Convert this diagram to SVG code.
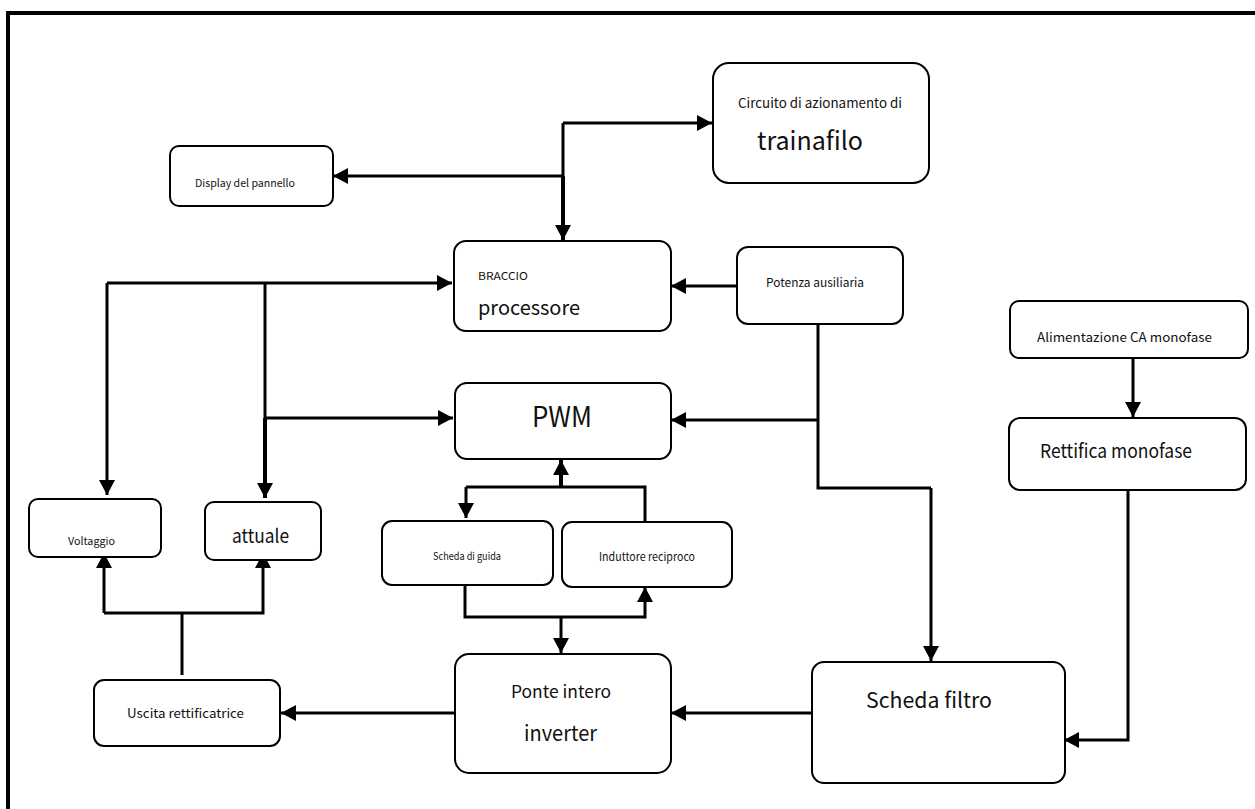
<svg xmlns="http://www.w3.org/2000/svg" width="1255" height="809" viewBox="0 0 1255 809">
  <defs>
    <marker id="ah" viewBox="0 0 15 16" refX="15" refY="8" markerWidth="15" markerHeight="16" markerUnits="userSpaceOnUse" orient="auto">
      <path d="M0,0 L15,8 L0,16 z" fill="#000"/>
    </marker>
    <style>
      .box { fill: #fff; stroke: #000; stroke-width: 2; }
      .lbl { font-family: "Noto Sans CJK SC", "Noto Sans", "Liberation Sans", sans-serif; fill: #111; }
      .wire { fill: none; stroke: #000; stroke-width: 3; }
      .arr { marker-end: url(#ah); }
      .frame { stroke: #000; stroke-width: 4; fill: none; }
    </style>
  </defs>

  <rect width="1255" height="809" fill="#fff"/>

  <!-- outer frame: top and left edges only -->
  <path class="frame" d="M8,809 L8,13 L1255,13"/>

  <!-- connectors -->
  <g id="connectors">
    <path class="wire arr" d="M563,176 L333,176"/>
    <path class="wire" d="M563,123 L563,176"/>
    <path class="wire arr" style="stroke-width:4" d="M563,176 L563,240"/>
    <path class="wire arr" d="M563,123 L712,123"/>

    <path class="wire arr" d="M737,286 L671,286"/>

    <path class="wire" d="M818,318 L818,488 L931,488"/>
    <path class="wire arr" d="M931,488 L931,661"/>
    <path class="wire arr" d="M818,420 L671,420"/>

    <path class="wire arr" d="M1133,358 L1133,417"/>
    <path class="wire arr" d="M1128,490 L1128,740 L1064,740"/>

    <path class="wire arr" d="M812,713 L671,713"/>
    <path class="wire arr" d="M455,713 L281,713"/>

    <path class="wire" d="M107,283 L265,283"/>
    <path class="wire arr" d="M265,283 L452,283"/>
    <path class="wire arr" d="M107,283 L107,495"/>
    <path class="wire" d="M265,283 L265,418"/>
    <path class="wire arr" style="stroke-width:4" d="M265,418 L265,498"/>
    <path class="wire arr" d="M265,418 L453,418"/>

    <path class="wire" d="M182,675 L182,613"/>
    <path class="wire arr" d="M104,613 L104,553"/>
    <path class="wire arr" d="M104,613 L263,613 L263,553"/>

    <path class="wire arr" style="stroke-width:4" d="M561,488 L561,460"/>
    <path class="wire" d="M466,487 L645,487 L645,522"/>
    <path class="wire arr" d="M466,487 L466,518"/>

    <path class="wire" d="M465,585 L465,617 L561,617"/>
    <path class="wire arr" d="M561,617 L645,617 L645,587"/>
    <path class="wire arr" d="M561,617 L561,653"/>
  </g>

  <g id="display">
    <rect class="box" x="170" y="146" width="163" height="60" rx="9"/>
    <text class="lbl" x="245" y="187" font-size="11" text-anchor="middle" textLength="100" lengthAdjust="spacingAndGlyphs">Display del pannello</text>
  </g>

  <g id="trainafilo">
    <rect class="box" x="713" y="63" width="216" height="120" rx="16"/>
    <text class="lbl" x="738" y="108" font-size="13.5" textLength="164" lengthAdjust="spacingAndGlyphs">Circuito di azionamento di</text>
    <text class="lbl" x="757" y="150" font-size="25" textLength="106" lengthAdjust="spacingAndGlyphs">trainafilo</text>
  </g>

  <g id="braccio">
    <rect class="box" x="454" y="241" width="217" height="90" rx="12"/>
    <text class="lbl" x="478" y="280" font-size="11" textLength="50" lengthAdjust="spacingAndGlyphs">BRACCIO</text>
    <text class="lbl" x="478" y="315" font-size="20" textLength="102" lengthAdjust="spacingAndGlyphs">processore</text>
  </g>

  <g id="potenza">
    <rect class="box" x="737" y="247" width="166" height="77" rx="11"/>
    <text class="lbl" x="766" y="287" font-size="12" textLength="98" lengthAdjust="spacingAndGlyphs">Potenza ausiliaria</text>
  </g>

  <g id="alimentazione">
    <rect class="box" x="1010" y="301" width="238" height="57" rx="9"/>
    <text class="lbl" x="1037" y="342" font-size="12.5" textLength="175" lengthAdjust="spacingAndGlyphs">Alimentazione CA monofase</text>
  </g>

  <g id="rettifica">
    <rect class="box" x="1009" y="418" width="237" height="72" rx="11"/>
    <text class="lbl" x="1040" y="458" font-size="19" textLength="152" lengthAdjust="spacingAndGlyphs">Rettifica monofase</text>
  </g>

  <g id="pwm">
    <rect class="box" x="455" y="383" width="216" height="76" rx="12"/>
    <text class="lbl" x="562" y="427" font-size="28" text-anchor="middle" textLength="60" lengthAdjust="spacingAndGlyphs">PWM</text>
  </g>

  <g id="voltaggio">
    <rect class="box" x="29" y="499" width="132" height="58" rx="9"/>
    <text class="lbl" x="68" y="545" font-size="11" textLength="47" lengthAdjust="spacingAndGlyphs">Voltaggio</text>
  </g>

  <g id="attuale">
    <rect class="box" x="205" y="502" width="116" height="58" rx="9"/>
    <text class="lbl" x="232" y="543" font-size="19" textLength="57" lengthAdjust="spacingAndGlyphs">attuale</text>
  </g>

  <g id="scheda-guida">
    <rect class="box" x="382" y="521" width="171" height="64" rx="10"/>
    <text class="lbl" x="433" y="560" font-size="10.5" textLength="68" lengthAdjust="spacingAndGlyphs">Scheda di guida</text>
  </g>

  <g id="induttore">
    <rect class="box" x="562" y="522" width="170" height="65" rx="10"/>
    <text class="lbl" x="599" y="561" font-size="11.5" textLength="96" lengthAdjust="spacingAndGlyphs">Induttore reciproco</text>
  </g>

  <g id="uscita">
    <rect class="box" x="94" y="680" width="186" height="66" rx="10"/>
    <text class="lbl" x="127" y="718" font-size="12.5" textLength="117" lengthAdjust="spacingAndGlyphs">Uscita rettificatrice</text>
  </g>

  <g id="ponte">
    <rect class="box" x="455" y="654" width="216" height="119" rx="14"/>
    <text class="lbl" x="511" y="698" font-size="17" textLength="100" lengthAdjust="spacingAndGlyphs">Ponte intero</text>
    <text class="lbl" x="524" y="741" font-size="21" textLength="73" lengthAdjust="spacingAndGlyphs">inverter</text>
  </g>

  <g id="scheda-filtro">
    <rect class="box" x="812" y="662" width="253" height="121" rx="12"/>
    <text class="lbl" x="866" y="708" font-size="21" textLength="126" lengthAdjust="spacingAndGlyphs">Scheda filtro</text>
  </g>
</svg>
